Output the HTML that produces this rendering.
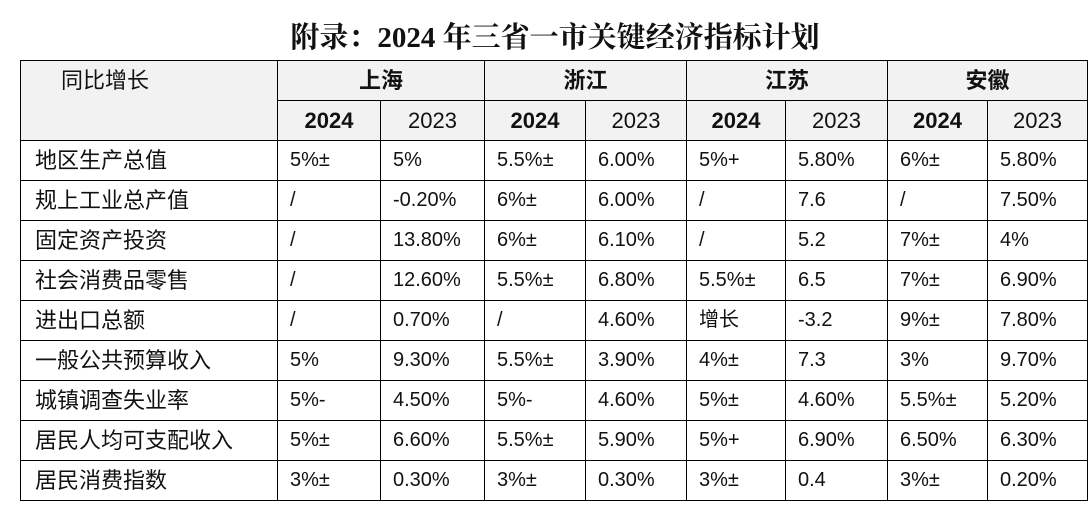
<!DOCTYPE html>
<html><head><meta charset="utf-8"><style>
body{margin:0;background:#fff;width:1092px;height:517px;overflow:hidden;font-family:"Liberation Sans","Noto Sans CJK SC",sans-serif;}
.title{position:absolute;left:0;width:1110px;top:20px;text-align:center;font-family:"Liberation Serif","Noto Serif CJK SC",serif;font-size:29px;font-weight:bold;color:#111;line-height:36px;}
table{position:absolute;left:20px;top:60px;border-collapse:collapse;table-layout:fixed;}
td{border:1.5px solid #000;height:39px;padding:0 0 0 12px;font-size:20px;color:#111;white-space:nowrap;line-height:39px;}
.h{background:#f2f2f2;}
.c{text-align:center;padding:0;font-size:22px;}
.b{font-weight:bold;font-size:22px;}
td.f{padding-left:14px;font-size:22px;}
</style></head><body>
<div class="title">附录：2024 年三省一市关键经济指标计划</div>
<table>
<colgroup><col style="width:257px"><col style="width:103px"><col style="width:104px"><col style="width:101px"><col style="width:101px"><col style="width:99px"><col style="width:102px"><col style="width:100px"><col style="width:100px"></colgroup>
<tr><td class="h f" rowspan="2" style="vertical-align:top;padding-left:40px">同比增长</td><td class="h c b" colspan="2">上海</td><td class="h c b" colspan="2">浙江</td><td class="h c b" colspan="2">江苏</td><td class="h c b" colspan="2">安徽</td></tr>
<tr><td class="h c b">2024</td><td class="h c">2023</td><td class="h c b">2024</td><td class="h c">2023</td><td class="h c b">2024</td><td class="h c">2023</td><td class="h c b">2024</td><td class="h c">2023</td></tr>
<tr><td class="f">地区生产总值</td><td>5%±</td><td>5%</td><td>5.5%±</td><td>6.00%</td><td>5%+</td><td>5.80%</td><td>6%±</td><td>5.80%</td></tr>
<tr><td class="f">规上工业总产值</td><td>/</td><td>-0.20%</td><td>6%±</td><td>6.00%</td><td>/</td><td>7.6</td><td>/</td><td>7.50%</td></tr>
<tr><td class="f">固定资产投资</td><td>/</td><td>13.80%</td><td>6%±</td><td>6.10%</td><td>/</td><td>5.2</td><td>7%±</td><td>4%</td></tr>
<tr><td class="f">社会消费品零售</td><td>/</td><td>12.60%</td><td>5.5%±</td><td>6.80%</td><td>5.5%±</td><td>6.5</td><td>7%±</td><td>6.90%</td></tr>
<tr><td class="f">进出口总额</td><td>/</td><td>0.70%</td><td>/</td><td>4.60%</td><td>增长</td><td>-3.2</td><td>9%±</td><td>7.80%</td></tr>
<tr><td class="f">一般公共预算收入</td><td>5%</td><td>9.30%</td><td>5.5%±</td><td>3.90%</td><td>4%±</td><td>7.3</td><td>3%</td><td>9.70%</td></tr>
<tr><td class="f">城镇调查失业率</td><td>5%-</td><td>4.50%</td><td>5%-</td><td>4.60%</td><td>5%±</td><td>4.60%</td><td>5.5%±</td><td>5.20%</td></tr>
<tr><td class="f">居民人均可支配收入</td><td>5%±</td><td>6.60%</td><td>5.5%±</td><td>5.90%</td><td>5%+</td><td>6.90%</td><td>6.50%</td><td>6.30%</td></tr>
<tr><td class="f">居民消费指数</td><td>3%±</td><td>0.30%</td><td>3%±</td><td>0.30%</td><td>3%±</td><td>0.4</td><td>3%±</td><td>0.20%</td></tr>
</table>
</body></html>
